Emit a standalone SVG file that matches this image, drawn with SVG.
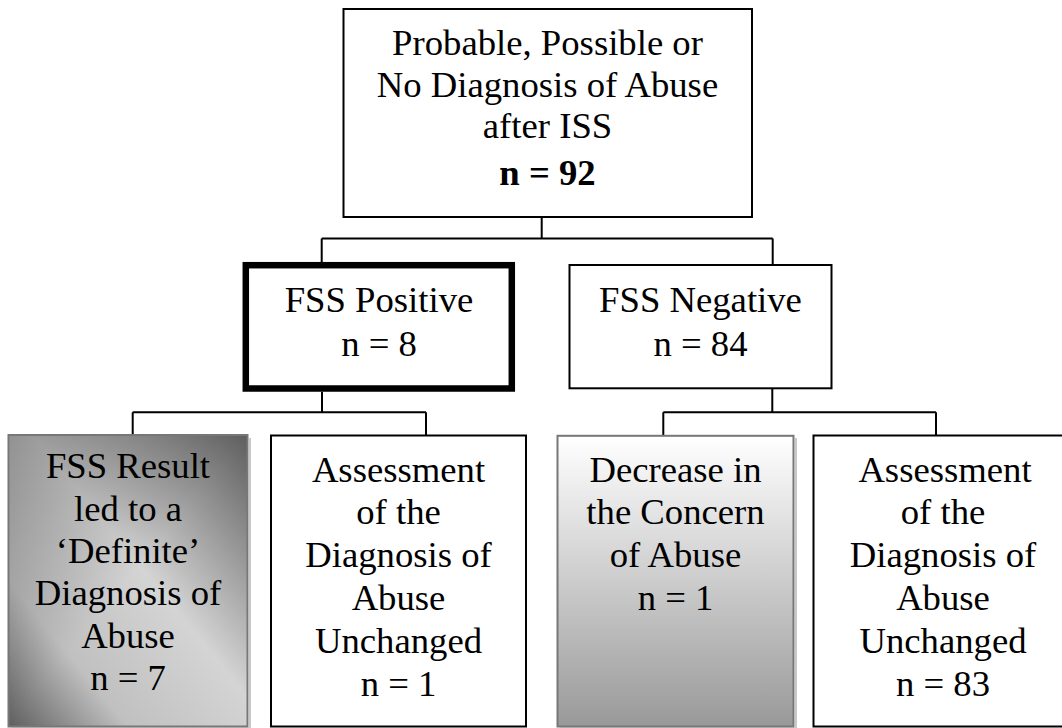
<svg xmlns="http://www.w3.org/2000/svg" width="1062" height="728" viewBox="0 0 1062 728">
<defs>
<linearGradient id="g1" x1="1" y1="0" x2="0" y2="1">
<stop offset="0" stop-color="#5e5e5e"/>
<stop offset="0.45" stop-color="#d4d4d4"/>
<stop offset="0.75" stop-color="#c0c0c0"/>
<stop offset="1" stop-color="#5e5e5e"/>
</linearGradient>
<linearGradient id="g1b" x1="0" y1="0" x2="1" y2="1">
<stop offset="0" stop-color="#000" stop-opacity="0.3"/>
<stop offset="0.5" stop-color="#000" stop-opacity="0"/>
</linearGradient>
<linearGradient id="g3" x1="0" y1="0" x2="0" y2="1">
<stop offset="0" stop-color="#ffffff"/>
<stop offset="1" stop-color="#999999"/>
</linearGradient>
</defs>
<style>
text{font-family:"Liberation Serif","Times New Roman",serif;font-size:36.7px;fill:#000;text-anchor:middle}
.b{font-weight:bold}
.box{fill:#fff;stroke:#000;stroke-width:2}
.thick{stroke-width:6.5}
.gbox{stroke:#777;stroke-width:2}
.sh{fill:none;stroke:#c8c8c8;stroke-width:2}
.conn{fill:none;stroke:#000;stroke-width:2}
</style>
<rect width="1062" height="728" fill="#fff"/>
<g id="connectors">
<path class="conn" d="M541.7 217V238.5M321.7 238.5H772.7M321.7 238.5V262M772.7 238.5V265M322 391.7V412.3M132.7 412.3H426M132.7 412.3V435M426 412.3V435.5M772.3 388.3V412.3M663.3 412.3H936M663.3 412.3V435.5M936 412.3V435.5"/>
</g>
<g id="top">
<rect class="box" x="343.5" y="9" width="408.5" height="208"/>
<text x="547.5" y="55">Probable, Possible or</text>
<text x="547.5" y="96.7">No Diagnosis of Abuse</text>
<text x="547.5" y="138.3">after ISS</text>
<text x="547.5" y="185" class="b">n = 92</text>
</g>
<g id="fss-positive">
<rect class="box thick" x="245.8" y="265.2" width="266" height="123.3"/>
<text x="379" y="311.7">FSS Positive</text>
<text x="379" y="356">n = 8</text>
</g>
<g id="fss-negative">
<rect class="box" x="569.5" y="265" width="262" height="123.3"/>
<text x="700.5" y="311.7">FSS Negative</text>
<text x="700.5" y="356">n = 84</text>
</g>
<g id="definite">
<path class="sh" d="M250 438V728M11 728.5H250"/>
<rect class="gbox" x="8.5" y="435" width="239" height="291.5" fill="url(#g1)"/>
<rect x="9.5" y="436" width="237" height="289.5" fill="url(#g1b)"/>
<text x="128" y="478.3">FSS Result</text>
<text x="128" y="520.6">led to a</text>
<text x="128" y="563">‘Definite’</text>
<text x="128" y="605.3">Diagnosis of</text>
<text x="128" y="647.6">Abuse</text>
<text x="128" y="690">n = 7</text>
</g>
<g id="pos-unchanged">
<rect class="box" x="271" y="435.5" width="255" height="291"/>
<text x="398.5" y="481.7">Assessment</text>
<text x="398.5" y="524.4">of the</text>
<text x="398.5" y="567.1">Diagnosis of</text>
<text x="398.5" y="609.8">Abuse</text>
<text x="398.5" y="652.5">Unchanged</text>
<text x="398.5" y="696">n = 1</text>
</g>
<g id="decrease">
<path class="sh" d="M796 438V728M560 728.5H796"/>
<rect class="gbox" x="557.5" y="435.8" width="236" height="290.7" fill="url(#g3)"/>
<text x="675.5" y="481.7">Decrease in</text>
<text x="675.5" y="524.4">the Concern</text>
<text x="675.5" y="567.1">of Abuse</text>
<text x="675.5" y="609.8">n = 1</text>
</g>
<g id="neg-unchanged">
<rect class="box" x="813.5" y="435.5" width="262" height="291"/>
<text x="945" y="481.7">Assessment</text>
<text x="943" y="524.4">of the</text>
<text x="943" y="567.1">Diagnosis of</text>
<text x="943" y="609.8">Abuse</text>
<text x="943" y="652.5">Unchanged</text>
<text x="943" y="696">n = 83</text>
</g>
</svg>
